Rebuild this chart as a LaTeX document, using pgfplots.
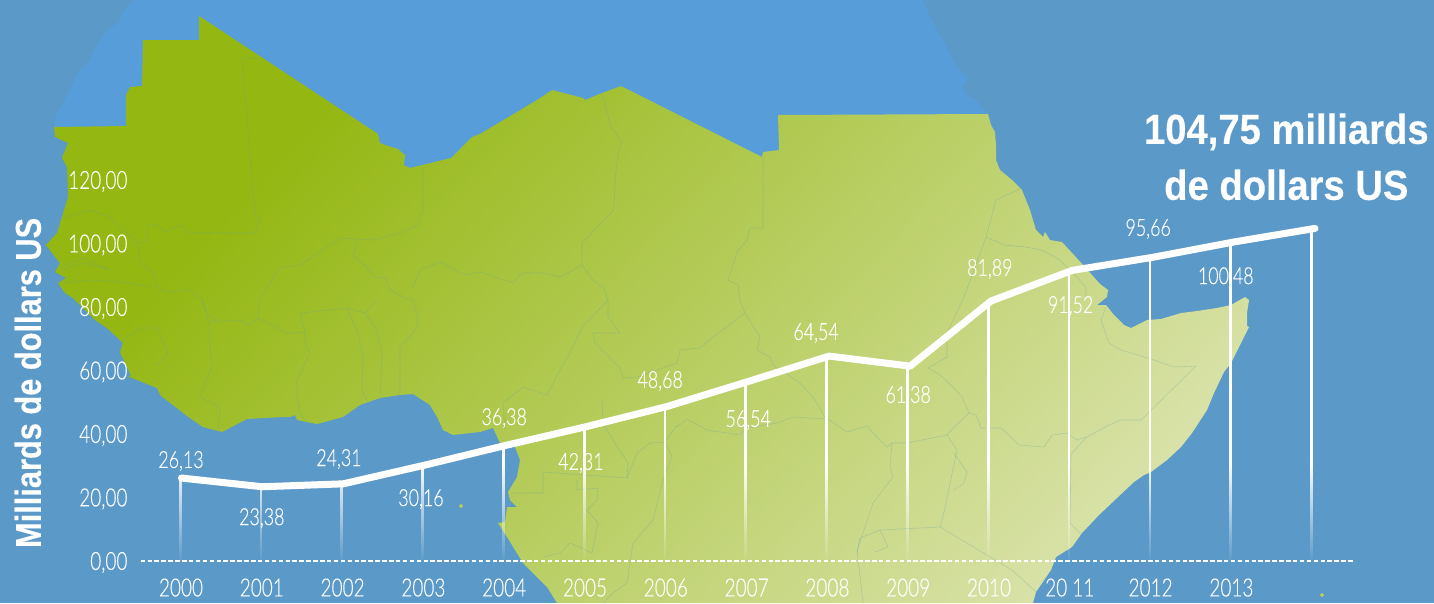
\documentclass[border=0pt]{standalone}
\usepackage{fontspec}
\usepackage{pgfplots}
\pgfplotsset{compat=1.18}
\usetikzlibrary{fadings}
\setmainfont{Liberation Sans}
\newfontfamily\thin[FakeStretch=0.76,FakeBold=0.25]{Lato Light}
\newfontfamily\heavy[FakeStretch=0.855,FakeBold=0.3]{Liberation Sans Bold}
\newfontfamily\headline[FakeStretch=0.91,FakeBold=0.3]{Liberation Sans Bold}

\definecolor{bgblue}{RGB}{91,153,200}
\definecolor{seablue}{RGB}{86,157,217}
\definecolor{landdark}{RGB}{148,183,18}
\definecolor{landpale}{RGB}{218,227,172}
\definecolor{borderc}{RGB}{105,160,165}

\pgfdeclareverticalshading{landshade}{100bp}{color(0bp)=(landpale); color(22bp)=(landpale); color(71bp)=(landdark); color(100bp)=(landdark)}
\pgfdeclareverticalshading{dropshade}{100bp}{color(0bp)=(pgftransparent!100); color(25bp)=(pgftransparent!100); color(40bp)=(pgftransparent!0); color(100bp)=(pgftransparent!0)}
\pgfdeclarefading{dropfade}{\pgfuseshading{dropshade}}

\pgfplotsset{border/.style={draw=borderc, line width=0.6pt, opacity=0.32, forget plot}}

\begin{document}
\begin{tikzpicture}
% map, in picture pixels
\begin{axis}[
    at={(0,0)}, anchor=south west,
    scale only axis, width=1434pt, height=603pt,
    xmin=0, xmax=1434, ymin=0, ymax=603, y dir=reverse,
    hide axis,
]
\addplot[draw=none, fill=bgblue, forget plot] coordinates {(0,0) (1434,0) (1434,603) (0,603)} -- cycle;
\addplot[draw=none, fill=seablue, forget plot] coordinates {
 (133,0) (923,0) (933,23) (942,38) (954,62) (961,72) (969,80) (962,85) (966,95) (976,100) (987,114)
 (900,220) (200,220) (54,127) (55,117) (60,108) (70,90) (78,72) (88,63) (98,43) (107,30) (118,23) (122,13)} -- cycle;
\addplot[draw=none, shade, shading=landshade, shading angle=47, forget plot] coordinates {
 (54,127) (126,126) (126,95) (130,87) (142,86) (143,40) (199,40) (199,16) (378,134) (380,143) (388,146) (398,149) (405,155)
 (404,165) (410,168) (451,158) (472,137) (480,134) (537,100) (552,90) (583,98) (585,100) (602,93) (621,86) (762,157) (763,152)
 (779,150) (778,115) (988,114) (991,125) (995,132) (996,145) (996,160) (1000,170) (1012,180) (1022,190) (1030,210) (1036,230)
 (1043,237) (1045,232) (1050,240) (1062,242) (1074,255) (1083,265) (1092,275) (1100,284) (1108,290) (1107,297) (1097,305) (1106,305)
 (1114,315) (1124,325) (1131,328) (1137,325) (1147,320) (1161,319) (1181,313) (1197,311) (1217,308) (1231,305) (1245,297) (1249,300)
 (1247,313) (1247,326) (1249,327) (1241,343) (1231,363) (1224,372) (1214,393) (1207,410) (1192,433) (1181,447) (1167,460) (1151,472)
 (1144,475) (1134,482) (1117,498) (1099,515) (1082,533) (1072,547) (1056,557) (1051,570) (1036,592) (1033,603)
 (557,603) (547,587) (523,563) (507,537) (498,523) (505,522) (507,507) (517,507) (510,500) (508,492) (517,477) (520,460) (515,447)
 (500,443) (493,428) (480,432) (453,435) (443,430) (437,417) (430,405) (413,394) (400,395) (380,398) (360,405) (343,417) (317,424)
 (297,420) (295,415) (290,417) (283,417) (247,419) (222,432) (203,427) (187,416) (160,395) (157,388) (132,378) (120,352) (123,343)
 (107,328) (95,320) (73,298) (65,293) (58,283) (66,278) (55,272) (60,263) (55,257) (46,245) (57,233) (62,217) (68,197) (67,167)
 (62,158) (68,143) (55,137)} -- cycle;
\addplot[only marks, mark=*, mark size=1.8pt, color=landdark!50!landpale, forget plot] coordinates {(461,506) (1322,595)};
\addplot[only marks, mark=*, mark size=1.2pt, color=landdark, forget plot] coordinates {(130,377)};
% borders
\addplot[border] coordinates {(260,58) (242,58) (255,215) (260,217) (255,233) (190,233) (180,225) (165,232) (158,225) (148,225) (147,240) (139,243)};
\addplot[border] coordinates {(63,218) (90,210) (110,217) (123,230) (138,243) (140,262) (155,275) (155,285) (165,292) (190,290) (202,300) (207,313) (217,322)};
\addplot[border] coordinates {(60,267) (85,258) (110,270) (85,263) (62,270)};
\addplot[border] coordinates {(60,283) (90,280) (123,282) (150,287)};
\addplot[border] coordinates {(423,167) (423,210) (418,225) (400,233) (375,240) (340,238) (300,265) (280,268) (260,298) (258,318)};
\addplot[border] coordinates {(357,240) (353,255) (370,270) (375,278) (385,277) (390,290) (405,298) (413,300) (418,317) (417,328) (400,347) (400,395)};
\addplot[border] coordinates {(413,287) (420,270) (440,262) (465,275) (480,272) (490,275) (513,283) (522,273) (543,273) (560,277) (573,270) (582,265) (593,280) (603,287) (608,300) (608,317) (620,333) (593,333) (595,343) (620,368) (623,378) (637,377) (677,363) (680,350) (700,348) (713,337) (745,313) (740,300) (738,285) (728,280) (733,265) (737,252) (747,240) (750,228) (763,228) (763,157)};
\addplot[border] coordinates {(602,93) (611,127) (622,142) (618,153) (615,180) (614,210) (582,243) (582,265)};
\addplot[border] coordinates {(745,313) (760,337) (757,350) (770,357) (773,365) (788,375) (800,383) (813,397) (825,417) (847,432) (867,426) (877,437) (887,447) (892,443) (907,443) (947,435) (957,450) (943,517) (940,527)};
\addplot[border] coordinates {(677,427) (687,419) (707,430) (740,435) (747,428) (777,423) (793,417) (825,419)};
\addplot[border] coordinates {(608,300) (582,327) (570,353) (560,370) (547,395) (523,387) (503,403) (505,430)};
\addplot[border] coordinates {(602,400) (603,423) (613,440) (628,463) (627,478) (543,472) (543,493) (513,493)};
\addplot[border] coordinates {(627,478) (637,453) (650,443) (665,442) (677,425)};
\addplot[border] coordinates {(665,442) (672,457) (663,480) (653,520) (633,543) (630,563) (627,583) (613,593) (603,603)};
\addplot[border] coordinates {(577,480) (577,490) (598,488) (597,500) (587,510) (598,523) (592,553) (570,543) (560,553) (543,557)};
\addplot[border] coordinates {(892,443) (890,467) (893,477) (873,503) (863,533) (857,550) (863,603)};
\addplot[border] coordinates {(857,553) (860,538) (880,530) (940,527) (1012,570) (1036,592)};
\addplot[border] coordinates {(880,530) (888,547) (875,552)};
\addplot[border] coordinates {(1196,366) (1174,367) (1151,359) (1121,350) (1109,343) (1101,320) (1106,307)};
\addplot[border] coordinates {(1196,366) (1141,420) (1121,420) (1109,425) (1087,437) (1077,440) (1067,433) (1052,435) (1044,447) (1019,445) (1001,428) (981,428) (976,415) (969,413) (962,397) (954,388)};
\addplot[border] coordinates {(1087,437) (1071,454) (1070,523) (1082,535)};
\addplot[border] coordinates {(969,413) (954,427) (947,435)};
\addplot[border] coordinates {(954,453) (967,472) (964,483) (954,490)};
\addplot[border] coordinates {(1022,188) (996,200) (986,237) (1004,245) (1026,247) (1041,250) (1057,258) (1067,267) (1086,287) (1086,297)};
\addplot[border] coordinates {(986,237) (964,297) (947,333) (947,357) (928,368) (940,375) (954,388)};
\addplot[border] coordinates {(120,343) (140,328) (157,328) (165,347) (168,355) (155,366)};
\addplot[border] coordinates {(202,300) (208,320) (210,333) (210,353) (213,363) (200,397) (220,407) (218,432)};
\addplot[border] coordinates {(208,322) (240,320) (250,325) (258,318) (287,333) (305,332) (305,343) (310,353) (297,380) (297,397) (300,413) (305,420)};
\addplot[border] coordinates {(300,313) (347,308) (358,333) (363,357) (362,390) (368,403)};
\addplot[border] coordinates {(300,313) (305,332)};
\addplot[border] coordinates {(347,308) (365,313) (377,330) (382,353) (380,397)};
\addplot[border] coordinates {(365,313) (377,300)};
\end{axis}

% ticks, labels and baseline; x is years after 2000
\begin{axis}[
    at={(0,0)}, anchor=south west,
    scale only axis, width=1434pt, height=603pt,
    xmin=-2.2401, xmax=15.5074, ymin=-13.228, ymax=176.69,
    axis line style={draw=none},
    tick style={draw=none},
    xtick={0,1,2,3,4,5,6,7,8,9,10,11,12,13},
    xticklabels={2000,2001,2002,2003,2004,2005,2006,2007,2008,2009,2010,20 11,2012,2013},
    ytick={0,20,40,60,80,100,120},
    x tick label style={font=\thin\fontsize{25}{28}\selectfont, text=white, yshift=28pt},
    y tick label style={font=\thin\fontsize{25}{28}\selectfont, text=white, xshift=131pt, yshift=-1.5pt,
      /pgf/number format/.cd, fixed, fixed zerofill, precision=2, use comma, assume math mode=true},
    ylabel={Milliards de dollars US},
    every axis y label/.style={at={(axis description cs:0.0195,0.365)}, rotate=90, anchor=center,
      font=\heavy\fontsize{36}{40}\selectfont, text=white},
    clip=false,
]
\addplot[white, dash pattern=on 4.5pt off 2.4pt, line width=1.6pt, forget plot] coordinates {(-0.5,0) (14.52,0)};
\addplot[only marks, mark=none, point meta=explicit symbolic, nodes near coords,
  every node near coord/.style={anchor=center, inner sep=0pt, text=white, font=\thin\fontsize{23.5}{26}\selectfont}, forget plot]
  table[meta=lab] {
 x y lab
 0.00 31.5 26,13
 1.00 13.5 23,38
 1.955 32.1 24,31
 2.97 19.5 30,16
 4.00 45.0 36,38
 4.95 30.9 42,31
 5.93 56.7 48,68
 7.02 44.4 56,54
 7.86 71.8 64,54
 9.00 52.0 61,38
 10.01 92.0 81,89
 11.01 80.3 91,52
 11.97 104.6 95,66
 12.93 89.4 100,48
};
\node[text=white, font=\headline\fontsize{42}{56}\selectfont, align=center, anchor=center, inner sep=0pt]
  at (axis cs:13.68,127.3) {104,75 milliards\\de dollars US};
\end{axis}

% the line and its drop lines; the faded path comes out slightly narrow, hence this xmax
\begin{axis}[
    at={(0,0)}, anchor=south west,
    scale only axis, width=1434pt, height=603pt,
    xmin=-2.2401, xmax=15.4699, ymin=-13.228, ymax=176.69,
    hide axis, clip=false,
]
\addplot[ycomb, white, line width=2.8pt, path fading=dropfade, fit fading=true, mark=none, forget plot] coordinates {
 (0,26.13) (1,23.38) (2,24.31) (3,30.16) (4,36.38) (5,42.31) (6,48.68) (7,56.54)
 (8,64.54) (9,61.38) (10,81.89) (11,91.52) (12,95.66) (13,100.48) (14,104.75)};
\addplot[white, line width=7pt, line cap=round, line join=round, mark=none, forget plot] coordinates {
 (0,26.13) (1,23.38) (2,24.31) (3,30.16) (4,36.38) (5,42.31) (6,48.68) (7,56.54)
 (8,64.54) (9,61.38) (10,81.89) (11,91.52) (12,95.66) (13,100.48) (14,104.75)};
\end{axis}
\pgfresetboundingbox
\path (0,0) rectangle (1434pt,603pt);
\end{tikzpicture}
\end{document}
